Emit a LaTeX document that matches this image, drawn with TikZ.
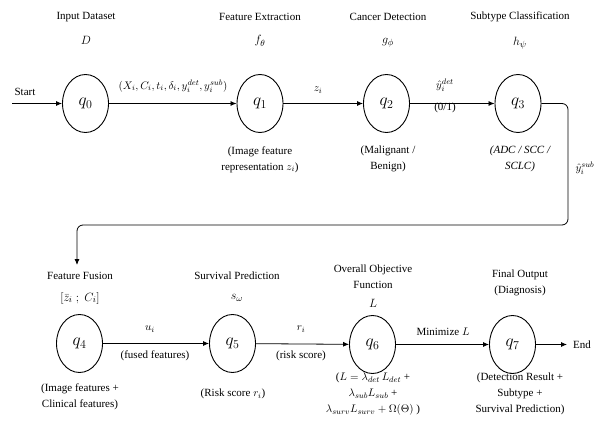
\documentclass[tikz,border=0pt]{standalone}
\usepackage{fontspec}
\setmainfont{Liberation Serif}
\usetikzlibrary{shapes.geometric,arrows.meta}
\begin{document}
\begin{tikzpicture}[x=1pt,y=-1pt,
  state/.style={draw,ellipse,minimum width=46pt,minimum height=58pt,inner sep=0pt,line width=0.9pt,font=\fontsize{17}{20}\selectfont},
  txt/.style={font=\fontsize{11}{16}\selectfont,align=center,inner sep=0pt},
  mth/.style={font=\fontsize{13}{15}\selectfont,inner sep=0pt},
  elab/.style={font=\fontsize{11}{13}\selectfont,inner sep=0pt},
  arr/.style={-{Latex[length=6pt,width=5pt]},line width=0.8pt}]
\useasboundingbox[fill=white] (0,0) rectangle (595,433);

% states
\node[state] (q0) at (85.5,103.5) {$q_0$};
\node[state] (q1) at (260,103.5) {$q_1$};
\node[state] (q2) at (386.5,103.5) {$q_2$};
\node[state] (q3) at (518,103.5) {$q_3$};
\node[state] (q4) at (79.5,343.5) {$q_4$};
\node[state] (q5) at (232.5,343.5) {$q_5$};
\node[state] (q6) at (372.5,344.5) {$q_6$};
\node[state] (q7) at (512.5,344.5) {$q_7$};

% top titles
\node[txt] (t0) at (86,17) {Input Dataset};
\node[mth] (m0) at (86,40) {$D$};
\node[txt] (t1) at (260,17) {Feature Extraction};
\node[mth] (m1) at (260,41) {$f_\theta$};
\node[txt] (t2) at (388,17) {Cancer Detection};
\node[mth] (m2) at (388,43) {$g_\phi$};
\node[txt] (t3) at (520,17) {Subtype Classification};
\node[mth] (m3) at (520,43) {$h_\psi$};

% top descriptions
\node[txt] (d1) at (260,159.5) {(Image feature\\representation $z_i$)};
\node[txt] (d2) at (388,158.5) {(Malignant /\\Benign)};
\node[txt] (d3) at (520,158.5) {\itshape (ADC / SCC /\\\itshape SCLC)};

% bottom titles
\node[txt] (t4) at (80,276) {Feature Fusion};
\node[mth] (m4) at (80,298) {$[\bar{z}_i\ ;\ C_i]$};
\node[txt] (t5) at (237,276) {Survival Prediction};
\node[mth] (m5) at (237,298) {$s_\omega$};
\node[txt] (t6) at (373,277) {Overall Objective\\Function};
\node[mth] (m6) at (373,303) {$L$};
\node[txt] (t7) at (520,282.5) {Final Output\\(Diagnosis)};

% bottom descriptions
\node[txt] (d4) at (80,397) {(Image features +\\Clinical features)};
\node[txt] (d5) at (233,394) {(Risk score $r_i$)};
\node[txt] (d6) at (373,394) {($L=\lambda_{det}\,L_{det}$ +\\$\lambda_{sub}L_{sub}$ +\\$\lambda_{surv}L_{surv}+\Omega(\Theta)$ )};
\node[txt] (d7) at (520,394) {(Detection Result +\\Subtype +\\Survival Prediction)};

% start / end
\node[txt] (start) at (25,92) {Start};
\coordinate (s0) at (12,103.5);
\draw[arr] (s0) -- (q0);
\node[txt] (endt) at (582,344.5) {End};
\coordinate (e0) at (567,344.5);
\draw[arr] (q7) -- (e0);

% top row edges
\draw[arr] (q0) -- (q1);
\node[elab] (l01) at (173,86) {$(X_i, C_i, t_i, \delta_i, y_i^{det}, y_i^{sub})$};
\draw[arr] (q1) -- (q2);
\node[elab] (l12) at (318,90) {$z_i$};
\draw[arr] (q2) -- (q3);
\node[elab] (l23) at (445,85) {$\hat{y}_i^{det}$};
\node[txt] (l23b) at (445,108) {(0/1)};

% loop q3 -> q4
\coordinate (c4) at (77,265);
\draw[arr,rounded corners=6pt] (q3.east) -- (568,103.5) -- (568,225) -- (77,225) -- (c4);
\node[elab] (ysub) at (585,168) {$\hat{y}_i^{sub}$};

% bottom row edges
\draw[arr] (q4) -- (q5);
\node[elab] (l45) at (150,329) {$u_i$};
\node[txt] (l45b) at (155,356) {(fused features)};
\draw[arr] (q5) -- (q6);
\node[elab] (l56) at (301,329) {$r_i$};
\node[txt] (l56b) at (301,356) {(risk score)};
\draw[arr] (q6) -- (q7);
\node[txt] (l67) at (443,332) {Minimize $L$};
\end{tikzpicture}
\end{document}
